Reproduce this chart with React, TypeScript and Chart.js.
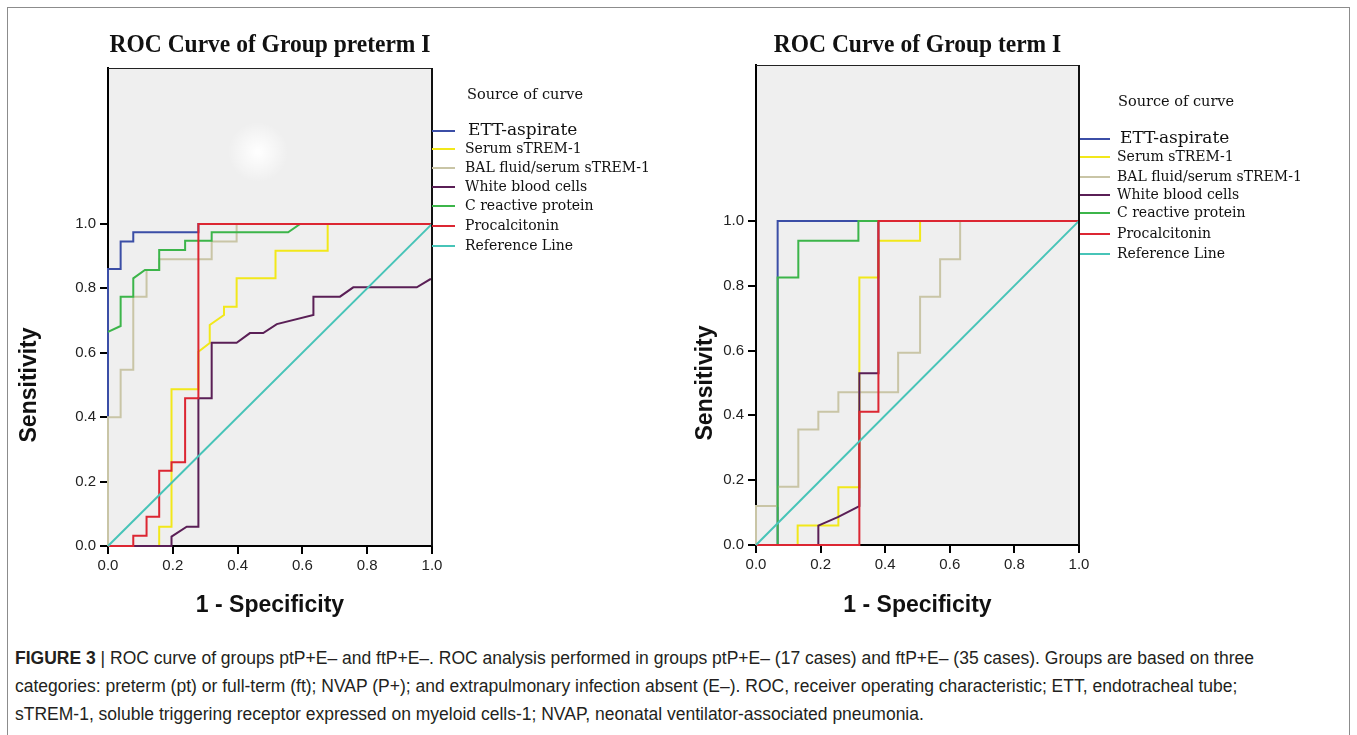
import React, { useEffect, useRef } from "react";
import { Chart, registerables } from "chart.js";

Chart.register(...registerables);

type Pt = [number, number];

// ---------- data ----------
const axisTicks = [0, 0.2, 0.4, 0.6, 0.8, 1.0];

const curveNames = [
  "ETT-aspirate",
  "Serum sTREM-1",
  "BAL fluid/serum sTREM-1",
  "White blood cells",
  "C reactive protein",
  "Procalcitonin",
  "Reference Line",
];

const curveColors = ["#3b4ea6", "#f2e81a", "#c9c5a6", "#5a1f56", "#3cb54a", "#dc2632", "#47c4b8"];

// Group preterm I
const pretermETT: Pt[] = [[0, 0], [0, 0.86], [0.039, 0.86], [0.039, 0.945], [0.078, 0.945], [0.078, 0.974], [0.279, 0.974], [0.279, 1], [1, 1]];
const pretermSerum: Pt[] = [[0, 0], [0.158, 0], [0.158, 0.06], [0.196, 0.06], [0.196, 0.487], [0.279, 0.487], [0.279, 0.603], [0.314, 0.63], [0.314, 0.686], [0.358, 0.717], [0.358, 0.743], [0.397, 0.743], [0.397, 0.831], [0.517, 0.831], [0.517, 0.917], [0.678, 0.917], [0.678, 1], [1, 1]];
const pretermBAL: Pt[] = [[0, 0], [0, 0.4], [0.039, 0.4], [0.039, 0.547], [0.078, 0.547], [0.078, 0.774], [0.119, 0.774], [0.119, 0.857], [0.158, 0.857], [0.158, 0.89], [0.32, 0.89], [0.32, 0.945], [0.397, 0.945], [0.397, 1], [1, 1]];
const pretermWBC: Pt[] = [[0, 0], [0.196, 0], [0.196, 0.029], [0.243, 0.06], [0.279, 0.06], [0.279, 0.459], [0.32, 0.459], [0.32, 0.631], [0.397, 0.631], [0.438, 0.661], [0.479, 0.661], [0.521, 0.689], [0.634, 0.717], [0.634, 0.774], [0.716, 0.774], [0.757, 0.803], [0.953, 0.803], [0.994, 0.828], [1, 0.828], [1, 1]];
const pretermCRP: Pt[] = [[0, 0.665], [0.039, 0.683], [0.039, 0.774], [0.078, 0.774], [0.078, 0.831], [0.114, 0.857], [0.158, 0.857], [0.158, 0.919], [0.238, 0.919], [0.238, 0.948], [0.32, 0.948], [0.32, 0.974], [0.556, 0.974], [0.593, 1], [1, 1]];
const pretermPCT: Pt[] = [[0, 0], [0.078, 0], [0.078, 0.032], [0.119, 0.032], [0.119, 0.091], [0.158, 0.091], [0.158, 0.234], [0.196, 0.234], [0.196, 0.26], [0.238, 0.26], [0.238, 0.459], [0.279, 0.459], [0.279, 1], [1, 1]];

// Group term I
const termETT: Pt[] = [[0, 0], [0.067, 0], [0.067, 1], [1, 1]];
const termSerum: Pt[] = [[0, 0], [0.129, 0], [0.129, 0.06], [0.255, 0.06], [0.255, 0.178], [0.32, 0.178], [0.32, 0.825], [0.379, 0.825], [0.379, 0.939], [0.508, 0.939], [0.508, 1], [1, 1]];
const termBAL: Pt[] = [[0, 0], [0, 0.12], [0.067, 0.12], [0.067, 0.18], [0.131, 0.18], [0.131, 0.356], [0.193, 0.356], [0.193, 0.411], [0.255, 0.411], [0.255, 0.471], [0.44, 0.471], [0.44, 0.593], [0.508, 0.593], [0.508, 0.766], [0.57, 0.766], [0.57, 0.882], [0.632, 0.882], [0.632, 1], [1, 1]];
const termWBC: Pt[] = [[0, 0], [0.193, 0], [0.193, 0.06], [0.255, 0.087], [0.32, 0.12], [0.32, 0.53], [0.379, 0.53], [0.379, 1], [1, 1]];
const termCRP: Pt[] = [[0, 0], [0.067, 0], [0.067, 0.825], [0.131, 0.825], [0.131, 0.939], [0.317, 0.939], [0.317, 1], [1, 1]];
const termPCT: Pt[] = [[0, 0], [0.32, 0], [0.32, 0.411], [0.379, 0.411], [0.379, 1], [1, 1]];

const referenceLine: Pt[] = [[0, 0], [1, 1]];

const pretermCurves = [pretermETT, pretermSerum, pretermBAL, pretermWBC, pretermCRP, pretermPCT, referenceLine];
const termCurves = [termETT, termSerum, termBAL, termWBC, termCRP, termPCT, referenceLine];

// ---------- layout ----------
type Layout = {
  w: number;
  h: number;
  top: number;
  right: number;
  yAxisW: number;
  xAxisH: number;
  yMax: number;
  title: string;
  titleY: number;
  sourceX: number;
  sourceY: number;
  legLineX0: number;
  legLineX1: number;
  legTextX: number;
  legYs: number[];
  sensX: number;
  specY: number;
  glow: boolean;
};

const leftLayout: Layout = {
  w: 690, h: 628, top: 68, right: 258, yAxisW: 108, xAxisH: 82, yMax: 1.484,
  title: "ROC Curve of Group preterm I", titleY: 46,
  sourceX: 467, sourceY: 95,
  legLineX0: 432, legLineX1: 455, legTextX: 465,
  legYs: [131, 149, 168, 187, 206, 226, 246],
  sensX: 30, specY: 606, glow: true,
};

const rightLayout: Layout = {
  w: 667, h: 628, top: 65, right: 278, yAxisW: 66, xAxisH: 83, yMax: 1.481,
  title: "ROC Curve of Group term I", titleY: 46,
  sourceX: 428, sourceY: 102,
  legLineX0: 390, legLineX1: 420, legTextX: 427,
  legYs: [139, 157, 177, 195, 213, 234, 254],
  sensX: 16, specY: 606, glow: false,
};

function decorPlugin(L: Layout) {
  return {
    id: "decor",
    beforeDraw(chart: any) {
      const { ctx, chartArea: a } = chart;
      ctx.save();
      ctx.fillStyle = "#efefef";
      ctx.fillRect(a.left, a.top, a.right - a.left, a.bottom - a.top);
      if (L.glow) {
        const g = ctx.createRadialGradient(258, 152, 2, 258, 152, 30);
        g.addColorStop(0, "rgba(255,255,255,0.95)");
        g.addColorStop(1, "rgba(255,255,255,0)");
        ctx.fillStyle = g;
        ctx.fillRect(220, 115, 76, 76);
      }
      ctx.restore();
    },
    afterDraw(chart: any) {
      const { ctx, chartArea: a, scales } = chart;
      ctx.save();
      // frame top + right
      ctx.strokeStyle = "#222";
      ctx.lineWidth = 1.2;
      ctx.beginPath();
      ctx.moveTo(a.left, a.top + 0.5);
      ctx.lineTo(a.right, a.top + 0.5);
      ctx.stroke();
      ctx.strokeStyle = "#111";
      ctx.lineWidth = 2;
      ctx.beginPath();
      ctx.moveTo(a.right, a.top);
      ctx.lineTo(a.right, a.bottom);
      ctx.stroke();

      // title
      ctx.fillStyle = "#111";
      ctx.font = 'bold 25px "Liberation Serif", serif';
      ctx.textAlign = "center";
      ctx.textBaseline = "middle";
      const cx = (a.left + a.right) / 2;
      ctx.save();
      ctx.translate(cx, L.titleY);
      ctx.scale(0.94, 1);
      ctx.fillText(L.title, 0, 0);
      ctx.restore();

      // legend
      ctx.textAlign = "left";
      ctx.font = '14.5px "DejaVu Serif", serif';
      ctx.fillText("Source of curve", L.sourceX, L.sourceY);
      curveNames.forEach((name, i) => {
        const y = L.legYs[i];
        ctx.strokeStyle = curveColors[i];
        ctx.lineWidth = 2;
        ctx.beginPath();
        ctx.moveTo(L.legLineX0, y);
        ctx.lineTo(L.legLineX1, y);
        ctx.stroke();
        ctx.fillStyle = "#111";
        ctx.font = i === 0 ? '17px "DejaVu Serif", serif' : '14px "DejaVu Serif", serif';
        ctx.fillText(name, L.legTextX + (i === 0 ? 3 : 0), y);
      });

      // axis titles
      ctx.fillStyle = "#111";
      ctx.font = 'bold 23px "Liberation Sans", Arial, sans-serif';
      ctx.textAlign = "center";
      ctx.fillText("1 - Specificity", cx, L.specY);
      const sy = scales.y.getPixelForValue(0.5);
      ctx.save();
      ctx.translate(L.sensX, sy);
      ctx.rotate(-Math.PI / 2);
      ctx.fillText("Sensitivity", 0, 0);
      ctx.restore();
      ctx.restore();
    },
  };
}

function makeConfig(curves: Pt[][], L: Layout): any {
  const tickFont = { family: '"Liberation Sans", Arial, sans-serif', size: 15 };
  return {
    type: "scatter",
    data: {
      datasets: curves.map((pts, i) => ({
        label: curveNames[i],
        data: pts.map(([x, y]) => ({ x, y })),
        showLine: true,
        borderColor: curveColors[i],
        backgroundColor: curveColors[i],
        borderWidth: 2,
        pointRadius: 0,
        pointHoverRadius: 0,
        tension: 0,
        fill: false,
        order: 10 - i,
        clip: 3,
      })),
    },
    options: {
      responsive: false,
      maintainAspectRatio: false,
      animation: false,
      events: [],
      layout: { padding: { left: 0, top: L.top, right: L.right, bottom: 0 } },
      plugins: {
        legend: { display: false },
        title: { display: false },
        tooltip: { enabled: false },
      },
      scales: {
        x: {
          type: "linear",
          min: 0,
          max: 1,
          afterBuildTicks: (s: any) => {
            s.ticks = axisTicks.map((v) => ({ value: v }));
          },
          afterFit: (s: any) => {
            s.height = L.xAxisH;
          },
          ticks: {
            callback: (v: any) => Number(v).toFixed(1),
            font: tickFont,
            color: "#222",
            padding: 3,
            maxRotation: 0,
            autoSkip: false,
          },
          grid: { drawOnChartArea: false, drawTicks: true, tickLength: 8, color: "#000", lineWidth: 2 },
          border: { display: true, color: "#000", width: 2 },
        },
        y: {
          type: "linear",
          min: 0,
          max: L.yMax,
          afterBuildTicks: (s: any) => {
            s.ticks = axisTicks.map((v) => ({ value: v }));
          },
          afterFit: (s: any) => {
            s.width = L.yAxisW;
          },
          ticks: {
            callback: (v: any) => Number(v).toFixed(1),
            font: tickFont,
            color: "#222",
            padding: 4,
            autoSkip: false,
          },
          grid: { drawOnChartArea: false, drawTicks: true, tickLength: 8, color: "#000", lineWidth: 2 },
          border: { display: true, color: "#000", width: 2 },
        },
      },
    },
    plugins: [decorPlugin(L)],
  };
}

function RocChart({ curves, L, left }: { curves: Pt[][]; L: Layout; left: number }) {
  const ref = useRef<HTMLCanvasElement | null>(null);
  useEffect(() => {
    if (!ref.current) return;
    const chart = new Chart(ref.current, makeConfig(curves, L));
    return () => chart.destroy();
  }, [curves, L]);
  return (
    <canvas
      ref={ref}
      width={L.w}
      height={L.h}
      style={{ position: "absolute", left, top: 0, width: L.w, height: L.h }}
    />
  );
}

export default function App() {
  return (
    <div
      style={{
        position: "absolute",
        left: 0,
        top: 0,
        width: 1357,
        height: 735,
        overflow: "hidden",
        background: "#fff",
      }}
    >
      <div
        style={{
          position: "absolute",
          left: 7,
          top: 7,
          width: 1343,
          height: 760,
          border: "1px solid #8c8c8c",
          boxSizing: "border-box",
        }}
      />
      <RocChart curves={pretermCurves} L={leftLayout} left={0} />
      <RocChart curves={termCurves} L={rightLayout} left={690} />
      <div
        style={{
          position: "absolute",
          left: 15,
          top: 644,
          fontFamily: '"Liberation Sans", Arial, sans-serif',
          fontSize: 17.5,
          lineHeight: "28px",
          color: "#231f20",
          whiteSpace: "nowrap",
        }}
      >
        <b>FIGURE 3</b> | ROC curve of groups ptP+E– and ftP+E–. ROC analysis performed in groups ptP+E– (17 cases) and ftP+E– (35 cases). Groups are based on three
        <br />
        categories: preterm (pt) or full-term (ft); NVAP (P+); and extrapulmonary infection absent (E–). ROC, receiver operating characteristic; ETT, endotracheal tube;
        <br />
        sTREM-1, soluble triggering receptor expressed on myeloid cells-1; NVAP, neonatal ventilator-associated pneumonia.
      </div>
    </div>
  );
}
